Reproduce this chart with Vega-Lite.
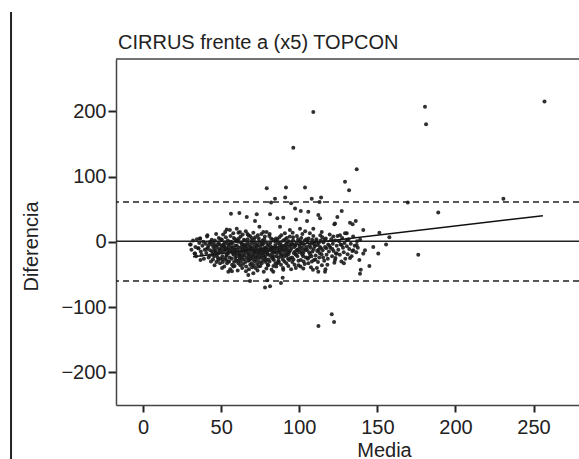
{
  "$schema": "https://vega.github.io/schema/vega-lite/v6.json",
  "autosize": {"type": "none"},
  "padding": {"left": 116, "top": 59, "right": 0, "bottom": 54},
  "width": 463,
  "height": 346,
  "background": "white",
  "title": {"text": "CIRRUS frente a (x5) TOPCON", "anchor": "start", "frame": "group", "fontSize": 20, "font": "Liberation Sans", "fontWeight": "normal", "color": "#222", "offset": 10, "baseline": "alphabetic", "dx": 2, "dy": 68},
  "config": {
    "view": {"stroke": null},
    "axis": {"domainColor": "#444", "domainWidth": 1.5, "tickColor": "#222", "tickWidth": 2, "labelFont": "Liberation Sans", "labelFontSize": 20, "labelColor": "#222", "titleFont": "Liberation Sans", "titleFontSize": 20, "titleFontWeight": "normal", "titleColor": "#222", "grid": false}
  },
  "datasets": {
    "pts": [
      {"m":109,"d":199},{"m":96.2,"d":144},{"m":79.2,"d":82},{"m":91.5,"d":83},{"m":103.7,"d":83},{"m":84.5,"d":66},{"m":91,"d":68},{"m":108,"d":66},{"m":114,"d":68},{"m":82,"d":60},{"m":94.8,"d":59},{"m":113,"d":61},{"m":56.3,"d":43},{"m":61.7,"d":44},{"m":66.4,"d":38},{"m":72.8,"d":42},{"m":71.7,"d":32},{"m":81.3,"d":42},{"m":86,"d":36},{"m":89.8,"d":37},{"m":97.3,"d":51},{"m":101,"d":47},{"m":97.9,"d":34},{"m":105.8,"d":46},{"m":105,"d":32},{"m":112.2,"d":41},{"m":113.3,"d":36},{"m":122.9,"d":28},{"m":124.4,"d":38},{"m":53.6,"d":19},{"m":60,"d":20},{"m":62,"d":15},{"m":74.5,"d":23},{"m":77,"d":15},{"m":67.4,"d":10},{"m":87.7,"d":23},{"m":94,"d":18},{"m":100.5,"d":20},{"m":109,"d":20},{"m":114.4,"d":15},
      {"m":180.5,"d":207},{"m":181.2,"d":180},{"m":257,"d":215},{"m":136.8,"d":111},{"m":129.3,"d":92},{"m":131.9,"d":79},{"m":169.5,"d":60},{"m":189,"d":45},{"m":230.7,"d":66},{"m":127.2,"d":47},{"m":132.5,"d":29},{"m":134.2,"d":27},{"m":136.2,"d":32},{"m":122.5,"d":27},{"m":141,"d":18},{"m":151.3,"d":14},{"m":157.7,"d":7},{"m":130.4,"d":13},
      {"m":176.2,"d":-20},{"m":112.3,"d":-129},{"m":120.8,"d":-111},{"m":122.3,"d":-123},
      {"m":147.4,"d":-8},{"m":150.6,"d":-18},{"m":155.6,"d":-4},{"m":144.9,"d":-37},{"m":139.4,"d":-43},{"m":138.9,"d":-49},{"m":128.6,"d":-33},{"m":141,"d":-18},{"m":142.1,"d":-13},{"m":138.5,"d":-28},{"m":132.5,"d":-25},{"m":122.9,"d":-28},{"m":124,"d":-18},{"m":134.6,"d":-13},{"m":136.8,"d":-5},{"m":127.2,"d":-5},{"m":130.4,"d":3},{"m":129.3,"d":13},{"m":126.1,"d":10},{"m":121.8,"d":8},
      {"m":78.1,"d":-70},{"m":81.3,"d":-68},{"m":79.5,"d":-59},{"m":88.3,"d":-63},{"m":89.4,"d":-55},{"m":68.5,"d":-60},{"m":67.4,"d":-51},{"m":70.6,"d":-48},{"m":89.8,"d":-43},{"m":83.4,"d":-46},{"m":112.2,"d":-46},{"m":116.5,"d":-46},{"m":102.6,"d":-41},{"m":54.6,"d":-46},{"m":57.8,"d":-38},
      {"m":30.1,"d":-4},{"m":33.3,"d":-18},{"m":36.5,"d":5},{"m":35.4,"d":-10},
      {"m":30.5,"d":-4},{"m":31,"d":-12},{"m":32,"d":2},{"m":33,"d":-18},{"m":33.5,"d":-8},{"m":34,"d":-22},{"m":34.5,"d":4},
      {"m":35.4,"d":-10},{"m":36,"d":-2},{"m":36.5,"d":5},{"m":37,"d":-15},{"m":37.5,"d":-20},{"m":38,"d":-6},{"m":38.5,"d":0},{"m":39,"d":-26},{"m":39.5,"d":-12},{"m":36.8,"d":-28},
      {"m":40,"d":-3},{"m":40.5,"d":-17},{"m":41,"d":8},{"m":41.5,"d":-9},{"m":42,"d":-24},{"m":42.5,"d":-1},{"m":43,"d":-13},{"m":43.5,"d":-30},{"m":44,"d":3},{"m":44.5,"d":-19},{"m":40.8,"d":-11},{"m":41.8,"d":-6},{"m":42.8,"d":-21},{"m":43.8,"d":-4},{"m":44.2,"d":-15},{"m":41.2,"d":10},{"m":43.2,"d":0},{"m":44.8,"d":-27},
      {"m":45,"d":-8},{"m":45.5,"d":-22},{"m":46,"d":2},{"m":46.5,"d":-14},{"m":47,"d":-31},{"m":47.5,"d":-5},{"m":48,"d":-18},{"m":48.5,"d":6},{"m":49,"d":-11},{"m":49.5,"d":-26},{"m":45.3,"d":-2},{"m":45.8,"d":-36},{"m":46.3,"d":-17},{"m":46.8,"d":12},{"m":47.3,"d":-9},{"m":47.8,"d":-24},{"m":48.3,"d":-1},{"m":48.8,"d":-14},{"m":49.3,"d":-33},{"m":49.8,"d":4},{"m":46.1,"d":-6},{"m":47.1,"d":-20},{"m":48.1,"d":-28},{"m":49.1,"d":-4},{"m":45.6,"d":-12},
      {"m":50,"d":-16},{"m":50.5,"d":3},{"m":51,"d":-27},{"m":51.5,"d":-8},{"m":52,"d":-38},{"m":52.5,"d":-12},{"m":53,"d":7},{"m":53.5,"d":-21},{"m":54,"d":-3},{"m":54.5,"d":-30},{"m":50.3,"d":-6},{"m":50.8,"d":-22},{"m":51.3,"d":11},{"m":51.8,"d":-14},{"m":52.3,"d":-1},{"m":52.8,"d":-25},{"m":53.3,"d":-10},{"m":53.8,"d":-33},{"m":54.3,"d":2},{"m":54.8,"d":-17},{"m":50.6,"d":-40},{"m":51.6,"d":-4},{"m":52.6,"d":15},{"m":53.6,"d":-19},{"m":54.6,"d":-9},{"m":51.1,"d":-31},{"m":52.1,"d":-7},{"m":53.1,"d":-28},{"m":54.1,"d":-13},{"m":50.1,"d":-11},
      {"m":55,"d":-5},{"m":55.5,"d":-24},{"m":56,"d":9},{"m":56.5,"d":-15},{"m":57,"d":-35},{"m":57.5,"d":-2},{"m":58,"d":-20},{"m":58.5,"d":-11},{"m":59,"d":4},{"m":59.5,"d":-29},{"m":55.3,"d":-13},{"m":55.8,"d":-42},{"m":56.3,"d":0},{"m":56.8,"d":-26},{"m":57.3,"d":-8},{"m":57.8,"d":13},{"m":58.3,"d":-31},{"m":58.8,"d":-17},{"m":59.3,"d":-6},{"m":59.8,"d":-22},{"m":55.6,"d":18},{"m":56.6,"d":-9},{"m":57.6,"d":-18},{"m":58.6,"d":-37},{"m":59.6,"d":1},{"m":55.1,"d":-30},{"m":56.1,"d":-3},{"m":57.1,"d":-14},{"m":58.1,"d":6},{"m":59.1,"d":-25},{"m":56.9,"d":-45},{"m":58.9,"d":-12},
      {"m":60,"d":-18},{"m":60.5,"d":2},{"m":61,"d":-33},{"m":61.5,"d":-9},{"m":62,"d":-23},{"m":62.5,"d":8},{"m":63,"d":-14},{"m":63.5,"d":-40},{"m":64,"d":-4},{"m":64.5,"d":-27},{"m":60.3,"d":-12},{"m":60.8,"d":-29},{"m":61.3,"d":5},{"m":61.8,"d":-20},{"m":62.3,"d":-36},{"m":62.8,"d":-1},{"m":63.3,"d":-25},{"m":63.8,"d":11},{"m":64.3,"d":-16},{"m":64.8,"d":-7},{"m":60.6,"d":-44},{"m":61.6,"d":-15},{"m":62.6,"d":-30},{"m":63.6,"d":-11},{"m":64.6,"d":3},{"m":60.1,"d":-6},{"m":61.1,"d":14},{"m":62.1,"d":-19},{"m":63.1,"d":-3},{"m":64.1,"d":-34},{"m":61.9,"d":-26},{"m":62.9,"d":-8},{"m":63.9,"d":-21},{"m":64.9,"d":-13},{"m":60.9,"d":0},
      {"m":65,"d":-21},{"m":65.5,"d":-5},{"m":66,"d":-38},{"m":66.5,"d":-13},{"m":67,"d":4},{"m":67.5,"d":-29},{"m":68,"d":-17},{"m":68.5,"d":9},{"m":69,"d":-8},{"m":69.5,"d":-33},{"m":65.3,"d":-10},{"m":65.8,"d":16},{"m":66.3,"d":-25},{"m":66.8,"d":-2},{"m":67.3,"d":-19},{"m":67.8,"d":-42},{"m":68.3,"d":-12},{"m":68.8,"d":-26},{"m":69.3,"d":1},{"m":69.8,"d":-15},{"m":65.6,"d":-31},{"m":66.6,"d":-7},{"m":67.6,"d":-23},{"m":68.6,"d":-35},{"m":69.6,"d":6},{"m":65.1,"d":2},{"m":66.1,"d":-16},{"m":67.1,"d":-11},{"m":68.1,"d":-4},{"m":69.1,"d":-22},{"m":65.9,"d":-45},{"m":66.9,"d":12},{"m":67.9,"d":-28},{"m":68.9,"d":-9},{"m":69.9,"d":-39},
      {"m":70,"d":-11},{"m":70.5,"d":-27},{"m":71,"d":3},{"m":71.5,"d":-18},{"m":72,"d":-40},{"m":72.5,"d":-6},{"m":73,"d":-22},{"m":73.5,"d":10},{"m":74,"d":-14},{"m":74.5,"d":-31},{"m":70.3,"d":-3},{"m":70.8,"d":-36},{"m":71.3,"d":-15},{"m":71.8,"d":7},{"m":72.3,"d":-24},{"m":72.8,"d":-9},{"m":73.3,"d":-44},{"m":73.8,"d":-19},{"m":74.3,"d":0},{"m":74.8,"d":-12},{"m":70.6,"d":14},{"m":71.6,"d":-30},{"m":72.6,"d":-16},{"m":73.6,"d":-5},{"m":74.6,"d":-25},{"m":70.1,"d":-20},{"m":71.1,"d":-8},{"m":72.1,"d":-2},{"m":73.1,"d":-34},{"m":74.1,"d":5},{"m":71.9,"d":-13},{"m":72.9,"d":-28},{"m":73.9,"d":-38},{"m":74.9,"d":-17},{"m":70.9,"d":-23},
      {"m":75,"d":-7},{"m":75.5,"d":-20},{"m":76,"d":-33},{"m":76.5,"d":2},{"m":77,"d":-15},{"m":77.5,"d":-26},{"m":78,"d":8},{"m":78.5,"d":-10},{"m":79,"d":-41},{"m":79.5,"d":-18},{"m":75.3,"d":-13},{"m":75.8,"d":12},{"m":76.3,"d":-4},{"m":76.8,"d":-29},{"m":77.3,"d":-46},{"m":77.8,"d":-9},{"m":78.3,"d":-22},{"m":78.8,"d":-1},{"m":79.3,"d":-14},{"m":79.8,"d":-35},{"m":75.6,"d":-24},{"m":76.6,"d":-17},{"m":77.6,"d":4},{"m":78.6,"d":-31},{"m":79.6,"d":-6},{"m":75.1,"d":-37},{"m":76.1,"d":-11},{"m":77.1,"d":-21},{"m":78.1,"d":-16},{"m":79.1,"d":15},{"m":76.9,"d":-3},{"m":77.9,"d":-12},{"m":78.9,"d":-27},{"m":75.9,"d":-2},
      {"m":80,"d":-19},{"m":80.5,"d":-4},{"m":81,"d":-30},{"m":81.5,"d":-12},{"m":82,"d":5},{"m":82.5,"d":-24},{"m":83,"d":-9},{"m":83.5,"d":-37},{"m":84,"d":-16},{"m":84.5,"d":1},{"m":80.3,"d":-27},{"m":80.8,"d":9},{"m":81.3,"d":-21},{"m":81.8,"d":-7},{"m":82.3,"d":-43},{"m":82.8,"d":-14},{"m":83.3,"d":3},{"m":83.8,"d":-28},{"m":84.3,"d":-10},{"m":84.8,"d":-33},{"m":80.6,"d":-13},{"m":81.6,"d":-1},{"m":82.6,"d":-18},{"m":83.6,"d":-22},{"m":84.6,"d":-5},{"m":80.1,"d":-36},{"m":81.1,"d":12},{"m":82.1,"d":-11},{"m":83.1,"d":-26},{"m":84.1,"d":-15},
      {"m":85,"d":-8},{"m":85.5,"d":-22},{"m":86,"d":3},{"m":86.5,"d":-15},{"m":87,"d":-31},{"m":87.5,"d":-5},{"m":88,"d":-19},{"m":88.5,"d":10},{"m":89,"d":-12},{"m":89.5,"d":-27},{"m":85.3,"d":-38},{"m":85.8,"d":-11},{"m":86.3,"d":-2},{"m":86.8,"d":-24},{"m":87.3,"d":7},{"m":87.8,"d":-16},{"m":88.3,"d":-35},{"m":88.8,"d":-6},{"m":89.3,"d":-20},{"m":89.8,"d":2},{"m":85.6,"d":-17},{"m":86.6,"d":-29},{"m":87.6,"d":-10},{"m":88.6,"d":-23},{"m":89.6,"d":-40},{"m":85.1,"d":5},{"m":86.1,"d":-33},{"m":87.1,"d":-13},{"m":88.1,"d":-1},{"m":89.1,"d":-9},
      {"m":90,"d":-14},{"m":90.5,"d":-30},{"m":91,"d":4},{"m":91.5,"d":-9},{"m":92,"d":-21},{"m":92.5,"d":-2},{"m":93,"d":-37},{"m":93.5,"d":-16},{"m":94,"d":8},{"m":94.5,"d":-25},{"m":90.3,"d":-6},{"m":90.8,"d":13},{"m":91.3,"d":-18},{"m":91.8,"d":-33},{"m":92.3,"d":-11},{"m":92.8,"d":-26},{"m":93.3,"d":1},{"m":93.8,"d":-7},{"m":94.3,"d":-13},{"m":94.8,"d":-42},{"m":90.6,"d":-22},{"m":91.6,"d":-3},{"m":92.6,"d":-15},{"m":93.6,"d":-28},{"m":94.6,"d":-4},{"m":91.1,"d":-12},{"m":92.1,"d":6},{"m":93.1,"d":-19},
      {"m":95,"d":-10},{"m":95.5,"d":-24},{"m":96,"d":2},{"m":96.5,"d":-17},{"m":97,"d":-35},{"m":97.5,"d":-6},{"m":98,"d":-20},{"m":98.5,"d":9},{"m":99,"d":-13},{"m":99.5,"d":-29},{"m":95.3,"d":-3},{"m":95.8,"d":14},{"m":96.3,"d":-27},{"m":96.8,"d":-8},{"m":97.3,"d":-15},{"m":97.8,"d":-40},{"m":98.3,"d":-1},{"m":98.8,"d":-22},{"m":99.3,"d":4},{"m":99.8,"d":-11},{"m":95.6,"d":-31},{"m":96.6,"d":-4},{"m":97.6,"d":-19},{"m":98.6,"d":-12},{"m":99.6,"d":-36},{"m":96.1,"d":7},
      {"m":100,"d":-16},{"m":100.5,"d":1},{"m":101,"d":-28},{"m":101.5,"d":-9},{"m":102,"d":12},{"m":102.5,"d":-22},{"m":103,"d":-5},{"m":103.5,"d":-34},{"m":104,"d":-13},{"m":104.5,"d":4},{"m":100.3,"d":-7},{"m":100.8,"d":-38},{"m":101.3,"d":6},{"m":101.8,"d":-19},{"m":102.3,"d":-2},{"m":102.8,"d":-30},{"m":103.3,"d":-11},{"m":103.8,"d":16},{"m":104.3,"d":-24},{"m":104.8,"d":-8},{"m":100.6,"d":-3},{"m":101.6,"d":-14},{"m":102.6,"d":-17},{"m":103.6,"d":2},
      {"m":105,"d":-12},{"m":105.5,"d":-26},{"m":106,"d":5},{"m":106.5,"d":-6},{"m":107,"d":-19},{"m":107.5,"d":-39},{"m":108,"d":-3},{"m":108.5,"d":-15},{"m":109,"d":9},{"m":109.5,"d":-28},{"m":105.3,"d":0},{"m":105.8,"d":-33},{"m":106.3,"d":-16},{"m":106.8,"d":13},{"m":107.3,"d":-9},{"m":107.8,"d":-22},{"m":108.3,"d":3},{"m":108.8,"d":-43},{"m":109.3,"d":-11},{"m":109.8,"d":-4},{"m":106.1,"d":-24},{"m":108.1,"d":-30},
      {"m":110,"d":-7},{"m":110.5,"d":-21},{"m":111,"d":4},{"m":111.5,"d":-14},{"m":112,"d":-31},{"m":112.5,"d":-2},{"m":113,"d":-17},{"m":113.5,"d":10},{"m":114,"d":-10},{"m":114.5,"d":-36},{"m":110.3,"d":-27},{"m":110.8,"d":1},{"m":111.3,"d":-40},{"m":111.8,"d":-5},{"m":112.3,"d":-12},{"m":112.8,"d":-24},{"m":113.3,"d":-8},{"m":113.8,"d":2},{"m":114.3,"d":-19},{"m":114.8,"d":7},
      {"m":115,"d":-13},{"m":115.5,"d":-1},{"m":116,"d":-29},{"m":116.5,"d":-8},{"m":117,"d":5},{"m":117.5,"d":-20},{"m":118,"d":-35},{"m":118.5,"d":-4},{"m":119,"d":-15},{"m":119.5,"d":11},{"m":115.3,"d":-24},{"m":116.3,"d":3},{"m":117.3,"d":-10},{"m":118.3,"d":-26},{"m":119.3,"d":-6},{"m":116.8,"d":-42},
      {"m":120,"d":-9},{"m":120.5,"d":4},{"m":121,"d":-22},{"m":121.5,"d":-3},{"m":122,"d":-14},{"m":122.5,"d":-32},{"m":123,"d":2},{"m":123.5,"d":-18},{"m":124,"d":-6},{"m":124.5,"d":9},{"m":121.2,"d":-11},{"m":123.2,"d":-25},
      {"m":125,"d":-12},{"m":125.5,"d":1},{"m":126,"d":-20},{"m":126.5,"d":-4},{"m":127,"d":-30},{"m":127.5,"d":6},{"m":128,"d":-9},{"m":128.5,"d":-16},{"m":129,"d":-2},{"m":129.5,"d":-26},
      {"m":130.5,"d":-7},{"m":131,"d":-19},{"m":131.5,"d":4},{"m":132,"d":-11},{"m":133,"d":-3},{"m":133.5,"d":-22},{"m":134,"d":-14},{"m":134.5,"d":8},
      {"m":135.5,"d":-6},{"m":136.5,"d":-16},{"m":137,"d":1},{"m":137.5,"d":-9},{"m":139,"d":3}
    ],
    "reg": [{"m": 32, "d": -23}, {"m": 256, "d": 40}],
    "lim": [{"d": 61}, {"d": -60}],
    "mean": [{"d": 1}],
    "frame": [{"d": 280}],
    "page": [{"m": -84.5, "d": 352, "d2": -333}]
  },
  "layer": [
    {
      "data": {"name": "page"},
      "mark": {"type": "rule", "color": "#222", "strokeWidth": 2, "clip": false},
      "encoding": {
        "x": {"field": "m", "type": "quantitative", "title": "Media"},
        "y": {"field": "d", "type": "quantitative", "title": "Diferencia"},
        "y2": {"field": "d2"}
      }
    },
    {
      "data": {"name": "frame"},
      "mark": {"type": "rule", "color": "#444", "strokeWidth": 1.5},
      "encoding": {"y": {"field": "d", "type": "quantitative", "title": "Diferencia"}}
    },
    {
      "data": {"name": "lim"},
      "mark": {"type": "rule", "color": "#222", "strokeWidth": 1.5, "strokeDash": [6, 4]},
      "encoding": {"y": {"field": "d", "type": "quantitative", "title": "Diferencia"}}
    },
    {
      "data": {"name": "mean"},
      "mark": {"type": "rule", "color": "#222", "strokeWidth": 1.5},
      "encoding": {"y": {"field": "d", "type": "quantitative", "title": "Diferencia"}}
    },
    {
      "data": {"name": "reg"},
      "mark": {"type": "line", "color": "#111", "strokeWidth": 1.5},
      "encoding": {
        "x": {"field": "m", "type": "quantitative", "title": "Media"},
        "y": {"field": "d", "type": "quantitative", "title": "Diferencia"}
      }
    },
    {
      "data": {"name": "pts"},
      "mark": {"type": "point", "filled": true, "shape": "circle", "size": 16, "color": "#1a1a1a", "opacity": 0.9},
      "encoding": {
        "x": {"field": "m", "type": "quantitative", "title": "Media",
          "scale": {"domain": [-17.3, 279.1], "nice": false, "zero": false},
          "axis": {"values": [0, 50, 100, 150, 200, 250], "tickSize": 7, "labelPadding": 5, "labelFlush": false, "labelOverlap": false, "titleX": 268, "titleY": 51, "titleBaseline": "alphabetic", "titleAlign": "center", "titleAnchor": null}},
        "y": {"field": "d", "type": "quantitative", "title": "Diferencia",
          "scale": {"domain": [-250, 280], "nice": false, "zero": false},
          "axis": {"values": [-200, -100, 0, 100, 200], "tickSize": 8, "labelPadding": 2, "labelFlush": false, "labelOverlap": false, "titleX": -79, "titleY": 187, "titleAngle": 270, "titleBaseline": "alphabetic", "titleAlign": "center", "titleAnchor": null}}
      }
    }
  ]
}
